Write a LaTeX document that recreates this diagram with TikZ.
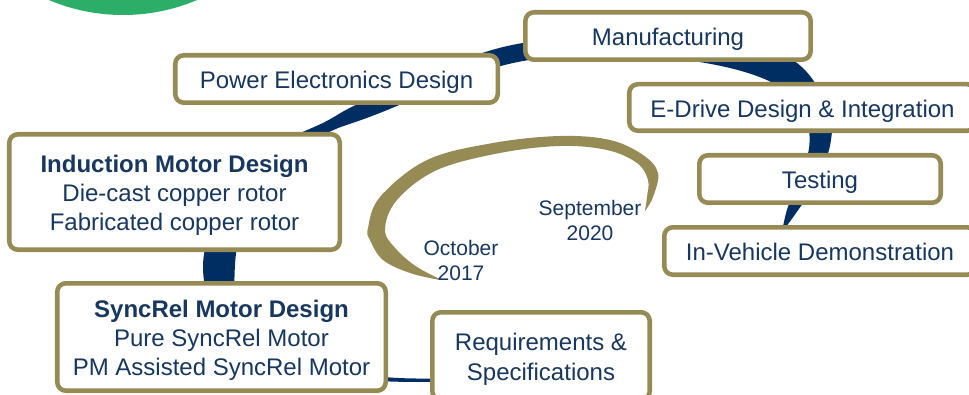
\documentclass[tikz,border=0pt]{standalone}
\usepackage{fontspec}
\setmainfont{Liberation Sans}
\usepackage{xcolor}
\definecolor{ink}{HTML}{17375E}
\definecolor{band}{HTML}{002E63}
\definecolor{gold}{HTML}{968A55}
\definecolor{leaf}{HTML}{2DAE68}
\newcommand\leadstrut{\rule{0pt}{18.2pt}}

\begin{document}
\begin{tikzpicture}[x=0.75pt, y=-0.75pt,
  stage/.style={draw=gold, line width=3.4pt, rounded corners=6.5pt, fill=white,
    text=ink, align=center, inner sep=0pt, font=\fontsize{18}{22}\selectfont,
    execute at begin node={\leadstrut},
    execute at end node={\rule[-3.8pt]{0pt}{0pt}}},
  milestone/.style={text=ink, align=center, font=\fontsize{15.75}{19}\selectfont}]
\clip (0,0) rectangle (969,395);
\fill[leaf] (123,-175) circle[radius=190];

\fill[band] plot[smooth, tension=0.6] coordinates {(460,381) (390,381.5) (298.6,374.3)
    (243.6,349.3) (212.8,309.6) (203,265) (214.8,220.1) (241.2,178.4) (279.7,144)
    (324.4,122.2) (368.8,99.2) (497.3,48.5) (599.6,38) (702.5,42.3) (789,58)
    (827.2,105.5) (830.5,143) (815.1,183.6) (796.4,212.5) (782,232)}
  -- plot[smooth, tension=0.6] coordinates {(782,232) (787.7,207.5) (800.9,176.4)
    (809.5,143) (802.8,114.6) (771,82) (697.5,61.7) (600.4,56) (502.7,65.5)
    (375.2,114.8) (329.6,131.8) (290.3,156) (258.8,191.6) (241.2,229.9) (235,265)
    (237.2,300.4) (256.4,336.7) (301.4,365.7) (390,377.5) (460,378)} -- cycle;

\fill[gold] plot[smooth, tension=0.6] coordinates {(440,280) (410,273) (383,260)
    (370,240) (368,228) (380,197) (427,160) (493,143) (560,136) (610,140) (643,155)
    (658,173) (653,197) (645,211)}
  -- plot[smooth, tension=0.6] coordinates {(645,211) (647,197) (648,180) (637,163)
    (607,150) (560,146) (500,153) (437,170) (397,200) (385,230) (397,250) (417,267)
    (440,279)} -- cycle;

\node[stage, minimum width=214pt, minimum height=35.6pt] (mfg) at (668,36) {Manufacturing};
\node[stage, minimum width=241.9pt, minimum height=35.6pt] (power) at (336.5,79) {Power Electronics Design};
\node[stage, minimum width=259.9pt, minimum height=34.9pt] (edrive) at (802.5,107.5) {E-Drive Design \& Integration};
\node[stage, minimum width=181.1pt, minimum height=35.6pt] (testing) at (820,179) {Testing};
\node[stage, minimum width=233.6pt, minimum height=35.6pt] (vehicle) at (820,251) {In-Vehicle Demonstration};
\node[stage, minimum width=247.9pt, minimum height=86.6pt] (induction) at (174.5,192)
  {\leadstrut\textbf{Induction Motor Design}\\Die-cast copper rotor\\Fabricated copper rotor};
\node[stage, minimum width=246.4pt, minimum height=80.6pt] (syncrel) at (221.5,337)
  {\leadstrut\textbf{SyncRel Motor Design}\\Pure SyncRel Motor\\PM Assisted SyncRel Motor};
\node[stage, minimum width=163.1pt, minimum height=65.6pt] (reqs) at (541,356) {\leadstrut Requirements \&\\Specifications};

\node[milestone] (sep) at (590,220.5) {September\\2020};
\node[milestone] (oct) at (461,260.5) {October\\2017};
\end{tikzpicture}
\end{document}
